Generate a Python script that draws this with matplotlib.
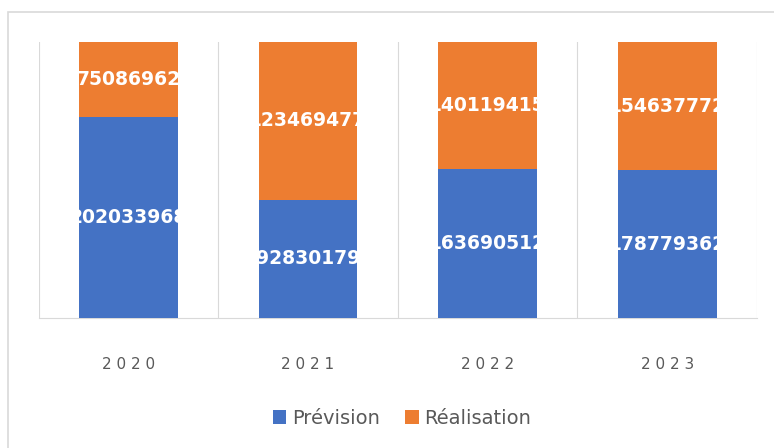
import numpy as np
import matplotlib.pyplot as plt
from matplotlib.patches import Rectangle

annees = ['2020', '2021', '2022', '2023']
prevision = [202033968, 92830179, 163690512, 178779362]
realisation = [75086962, 123469477, 140119415, 154637772]

bleu = '#4472C4'
orange = '#ED7D31'
gris = '#595959'

prev = np.array(prevision, dtype=float)
real = np.array(realisation, dtype=float)
total = prev + real
p_prev = prev / total
p_real = real / total

fig = plt.figure(figsize=(7.74, 4.48), dpi=100)
# cadre du graphique
fig.patches.append(Rectangle((8 / 774, -0.05), 1.0, 1 - 12 / 448 + 0.05,
                             transform=fig.transFigure, fill=False,
                             edgecolor='#d9d9d9', linewidth=1.2))

ax = fig.add_axes([38.5 / 774, 1 - 318 / 448, (757 - 38.5) / 774, (318 - 42) / 448])
x = np.arange(len(annees))
b1 = ax.bar(x, p_prev, width=0.55, color=bleu, label='Prévision', zorder=3)
b2 = ax.bar(x, p_real, width=0.55, bottom=p_prev, color=orange, label='Réalisation', zorder=3)

for bars, vals, base, h in [(b1, prevision, np.zeros(4), p_prev), (b2, realisation, p_prev, p_real)]:
    for rect, v, b, hh in zip(bars, vals, base, h):
        t = ax.text(rect.get_x() + rect.get_width() / 2, b + hh / 2, str(v),
                    ha='center', va='center', color='white', fontsize=13.5,
                    fontweight='bold', zorder=4)
        t.set_clip_path(rect)

ax.set_xlim(-0.5, 3.5)
ax.set_ylim(0, 1)
for s in ['top', 'right', 'left']:
    ax.spines[s].set_visible(False)
ax.spines['bottom'].set_color('#d9d9d9')
ax.set_yticks([])
for xv in np.arange(-0.5, 4, 1):
    ax.axvline(xv, color='#d9d9d9', linewidth=0.8, zorder=1)
ax.set_xticks(x)
ax.set_xticklabels([' '.join(a) for a in annees], color=gris, fontsize=11)
ax.tick_params(axis='x', length=0, pad=28)

ax.legend(loc='center', bbox_to_anchor=(402 / 774, 1 - 418 / 448),
          bbox_transform=fig.transFigure, ncol=2, frameon=False,
          fontsize=14, labelcolor=gris, handlelength=0.7, handleheight=0.7,
          handletextpad=0.3, columnspacing=1.3)

fig.savefig('out.png', dpi=100)
